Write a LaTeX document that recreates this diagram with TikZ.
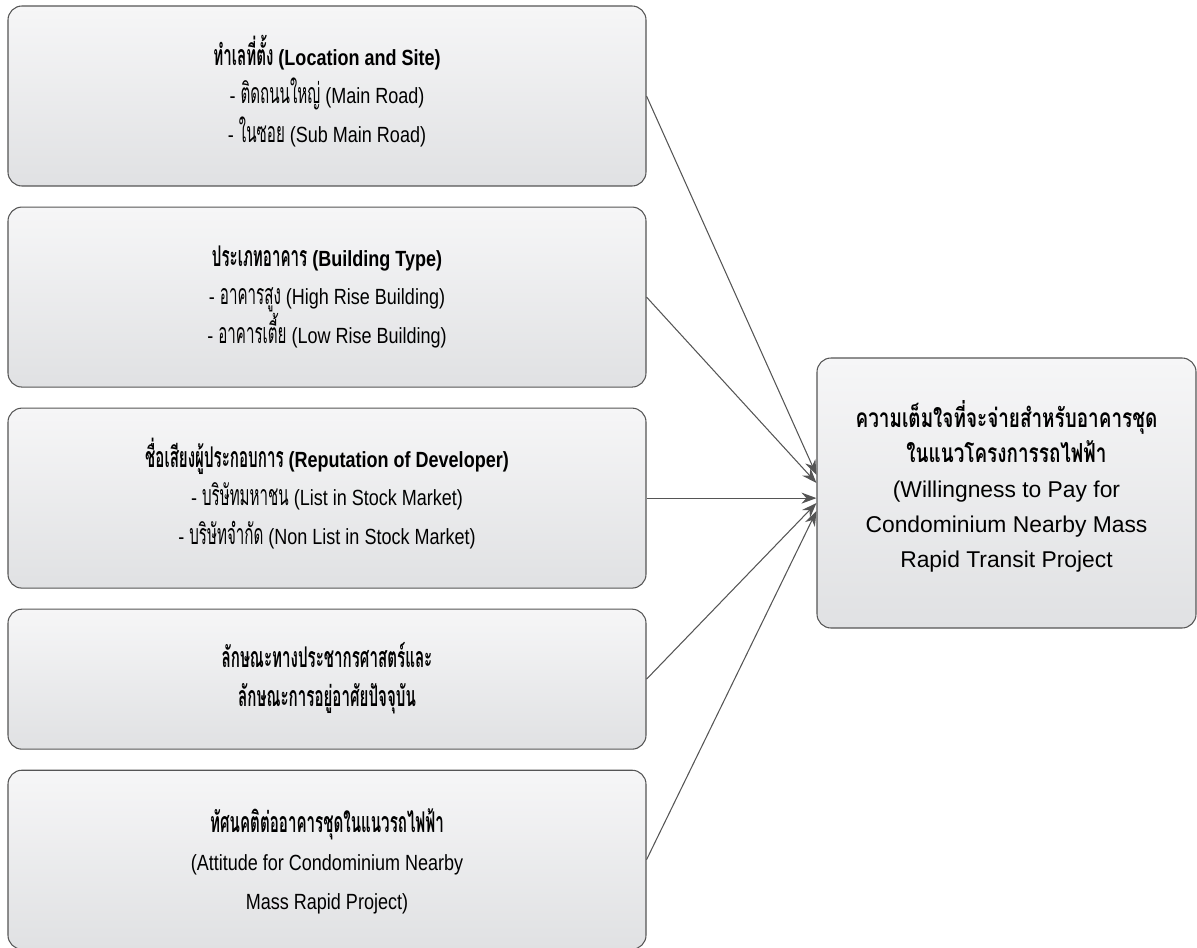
\documentclass[tikz,border=0pt]{standalone}
\usepackage{fontspec}
\setmainfont{Liberation Sans}
\newfontfamily\narrowfont{Liberation Sans}[FakeStretch=0.82]
\newfontfamily\thaifont{Loma}[Script=Thai,Scale=1.15,FakeStretch=0.72]
\newfontfamily\thainarrow{Loma}[Script=Thai,Scale=1.3,FakeStretch=0.53]
\usetikzlibrary{arrows.meta,positioning}
\definecolor{boxline}{RGB}{85,85,85}
\definecolor{boxtop}{RGB}{246,246,247}
\definecolor{boxbottom}{RGB}{224,225,227}
\newcommand{\thn}[1]{\smash{\thainarrow #1}\strut}
\newcommand{\thw}[1]{\smash{\thaifont #1}\strut}

\begin{document}
\begin{tikzpicture}[
    node distance=0.4cm,
    factor/.style={rectangle, draw=boxline, line width=0.6pt, top color=boxtop, bottom color=boxbottom, rounded corners=0.28cm, minimum width=12.76cm, minimum height=3.6cm, align=center, font=\narrowfont\fontsize{12.5}{21.9}\selectfont},
    outcome/.style={rectangle, draw=boxline, line width=0.6pt, top color=boxtop, bottom color=boxbottom, rounded corners=0.28cm, minimum width=7.58cm, minimum height=5.4cm, align=center, font=\fontsize{13}{19.9}\selectfont},
    link/.style={-{Stealth[length=3mm,width=2.2mm]}, line width=0.6pt, boxline}
]
\useasboundingbox (0,0) rectangle (23.94,-18.94);

% Factors on the left
\node[factor] (location) at (6.54,-1.92) {\textbf{\thn{ทำเลที่ตั้ง} (Location and Site)}\\
- \thn{ติดถนนใหญ่} (Main Road)\\
- \thn{ในซอย} (Sub Main Road)};
\node[factor, below=of location] (building) {\textbf{\thn{ประเภทอาคาร} (Building Type)}\\
- \thn{อาคารสูง} (High Rise Building)\\
- \thn{อาคารเตี้ย} (Low Rise Building)};
\node[factor, below=of building] (developer) {\textbf{\thn{ชื่อเสียงผู้ประกอบการ} (Reputation of Developer)}\\
- \thn{บริษัทมหาชน} (List in Stock Market)\\
- \thn{บริษัทจำกัด} (Non List in Stock Market)};
\node[factor, below=of developer, minimum height=2.8cm] (resident) {\textbf{\thn{ลักษณะทางประชากรศาสตร์และ}}\\
\textbf{\thn{ลักษณะการอยู่อาศัยปัจจุบัน}}};
\node[factor, below=of resident, minimum height=3.58cm] (attitude) {\textbf{\thn{ทัศนคติต่ออาคารชุดในแนวรถไฟฟ้า}}\\
(Attitude for Condominium Nearby\\
Mass Rapid Project)};

% Outcome on the right
\node[outcome] (wtp) at (20.13,-9.86) {\textbf{\thw{ความเต็มใจที่จะจ่ายสำหรับอาคารชุด}}\\
\textbf{\thw{ในแนวโครงการรถไฟฟ้า}}\\
(Willingness to Pay for\\
Condominium Nearby Mass\\
Rapid Transit Project\\[-0.38cm]};

% Arrows
\draw[link] (location.east) -- ([yshift=3.6mm]wtp.west);
\draw[link] (building.east) -- ([yshift=2mm]wtp.west);
\draw[link] (developer.east) -- (developer.east -| wtp.west);
\draw[link] (resident.east) -- ([yshift=-2mm]wtp.west);
\draw[link] (attitude.east) -- ([yshift=-3.6mm]wtp.west);

\end{tikzpicture}
\end{document}
